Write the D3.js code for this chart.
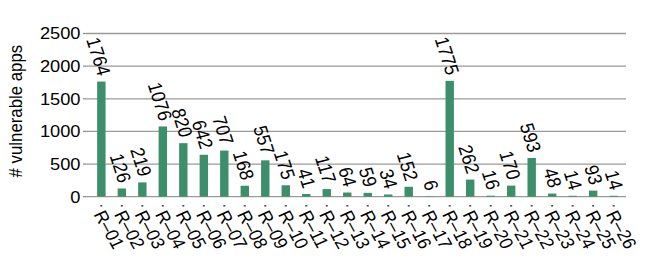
<!DOCTYPE html>
<html>
<head>
<meta charset="utf-8">
<script src="https://cdn.jsdelivr.net/npm/d3@7"></script>
<style>
html,body{margin:0;padding:0;background:#fff;}
svg{display:block;}
text{font-family:"Liberation Sans",Arial,Helvetica,sans-serif;fill:#000;}
</style>
</head>
<body>
<div id="chart"></div>
<script>
const categories = ["R–01","R–02","R–03","R–04","R–05","R–06","R–07","R–08","R–09","R–10","R–11","R–12","R–13","R–14","R–15","R–16","R–17","R–18","R–19","R–20","R–21","R–22","R–23","R–24","R–25","R–26"];
const values = [1764,126,219,1076,820,642,707,168,557,175,41,117,64,59,34,152,6,1775,262,16,170,593,48,14,93,14];
const yTicks = [0,500,1000,1500,2000,2500];
const yTitle = "# vulnerable apps";

const W = 645, H = 262;
const SX = 1.12; // horizontal stretch of glyphs
const FS = 16.3;
const svg = d3.select("#chart").append("svg").attr("width", W).attr("height", H);

const x = d3.scaleBand().domain(categories).range([91, 624]).paddingInner(0.59).paddingOuter(0.3);
const y = d3.scaleLinear().domain([0, 2500]).range([196.7, 33.5]);
const gridX0 = 86, gridX1 = 626;

// gridlines
svg.append("g").selectAll("line").data(yTicks).join("line")
  .attr("x1", gridX0).attr("x2", gridX1)
  .attr("y1", d => y(d)).attr("y2", d => y(d))
  .attr("stroke", "#9a9a9a").attr("stroke-width", 1.3);

// y ticks
svg.append("g").selectAll("line").data(yTicks).join("line")
  .attr("x1", 83).attr("x2", gridX0)
  .attr("y1", d => y(d)).attr("y2", d => y(d))
  .attr("stroke", "#8a8a8a").attr("stroke-width", 1.2);

// y tick labels
svg.append("g").selectAll("text").data(yTicks).join("text")
  .attr("transform", d => `translate(80.5,${y(d)}) scale(${SX},1)`)
  .attr("dy", "0.36em")
  .attr("text-anchor", "end")
  .attr("font-size", FS)
  .text(d => d);

// y title
svg.append("text")
  .attr("transform", `translate(15,${(y(0)+y(2500))/2 - 4}) scale(${SX},1) rotate(-90)`)
  .attr("dy", "0.36em")
  .attr("text-anchor", "middle")
  .attr("font-size", 16.8)
  .text(yTitle);

// bars
svg.append("g").selectAll("rect").data(values).join("rect")
  .attr("x", (d, i) => x(categories[i]))
  .attr("width", x.bandwidth())
  .attr("y", d => y(d))
  .attr("height", d => y(0) - y(d))
  .attr("fill", "#3d8f6b");

// convert screen angle to pre-stretch angle
function preAngle(deg) {
  const r = deg * Math.PI / 180;
  return Math.atan2(Math.sin(r), Math.cos(r) * SX) * 180 / Math.PI;
}

// value labels
const va = preAngle(75.5);
svg.append("g").selectAll("text").data(values).join("text")
  .attr("transform", (d, i) => `translate(${x(categories[i]) + x.bandwidth()/2 + 3.5},${y(d) - 6.5}) scale(${SX},1) rotate(${va})`)
  .attr("dy", "0.36em")
  .attr("text-anchor", "end")
  .attr("font-size", 17.4)
  .text(d => d);

// x tick marks
svg.append("g").selectAll("line").data(categories).join("line")
  .attr("x1", d => x(d) + x.bandwidth()/2 - 1).attr("x2", d => x(d) + x.bandwidth()/2 + 1)
  .attr("y1", 205.8).attr("y2", 205.8)
  .attr("stroke", "#444").attr("stroke-width", 1.5);

// x labels
const xa = preAngle(66);
svg.append("g").selectAll("text").data(categories).join("text")
  .attr("transform", d => `translate(${x(d) + x.bandwidth()/2 - 2},${211.5}) scale(${SX},1) rotate(${xa})`)
  .attr("dy", "0.36em")
  .attr("text-anchor", "start")
  .attr("font-size", 16.8)
  .text(d => d);
</script>
</body>
</html>
